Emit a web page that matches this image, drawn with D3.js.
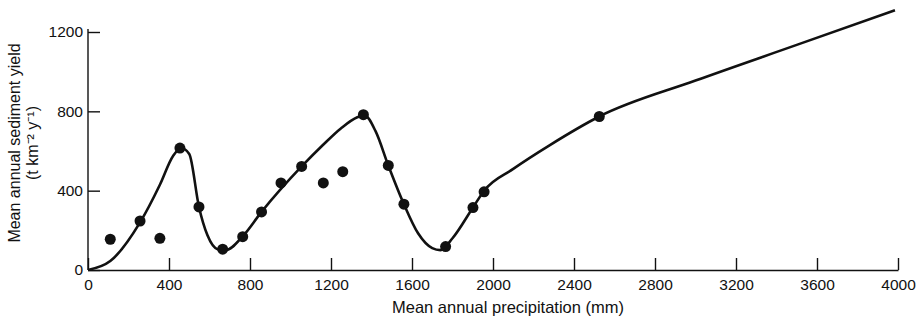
<!DOCTYPE html>
<html>
<head>
  <meta charset="utf-8">
  <title>Sediment yield vs precipitation</title>
  <style>
   html, body { margin: 0; padding: 0; background: #fff; }
   text { font-family: "Liberation Sans", Arial, sans-serif; fill: #111; }
   .axis path, .axis line { stroke: #111; stroke-width: 1.4px; }
  </style>
</head>
<body>
  <div id="chart"></div>
  <script src="https://d3js.org/d3.v7.min.js"></script>
  <script>
// observed basins: precipitation (mm) and sediment yield
var obsPrecip = [110, 257, 355, 454, 548, 665, 764, 857, 953, 1055, 1162, 1258, 1360, 1483, 1560, 1766, 1901, 1956, 2525];
var obsYield  = [155, 247, 160, 615, 318, 105, 168, 293, 439, 522, 439, 496, 783, 527, 332, 118, 315, 394, 774];

// fitted curve
var curvePrecip = [0, 110, 257, 355, 420, 460, 500, 548, 590, 640, 680, 764, 857, 1055, 1160, 1250, 1330, 1365, 1420, 1483, 1560, 1630, 1700, 1740, 1800, 1901, 1956, 2100, 2281, 2525, 3000, 3500, 3985];
var curveYield  = [0, 45, 240, 430, 575, 615, 585, 318, 175, 105, 100, 170, 293, 522, 630, 715, 770, 780, 700, 527, 332, 185, 110, 100, 160, 315, 400, 510, 630, 774, 955, 1135, 1310];

var xTicks = [0, 400, 800, 1200, 1600, 2000, 2400, 2800, 3200, 3600, 4000];
var yTicks = [0, 400, 800, 1200];

var width = 917, height = 321;

var svg = d3.select("#chart").append("svg")
  .attr("width", width)
  .attr("height", height);

var x = d3.scaleLinear().domain([0, 4000]).range([88, 898]);
var y = d3.scaleLinear().domain([0, 1200]).range([270, 32]);

// x axis, ticks pointing inward
var xAxis = svg.append("g")
  .attr("class", "axis")
  .attr("transform", "translate(0," + y(0) + ")")
  .call(d3.axisBottom(x).tickValues(xTicks).tickFormat(d3.format("d"))
    .tickSizeInner(-12).tickSizeOuter(0).tickPadding(4));
xAxis.selectAll("text").style("font-size", "15.5px").attr("y", 20).attr("dy", 0);

// y axis
var yAxis = svg.append("g")
  .attr("class", "axis")
  .attr("transform", "translate(" + x(0) + ",0)")
  .call(d3.axisLeft(y).tickValues(yTicks).tickFormat(d3.format("d"))
    .tickSizeInner(-12).tickSizeOuter(0).tickPadding(5));
yAxis.select(".domain").attr("d", "M0," + y(0) + "V" + (y(1200) - 3));
yAxis.selectAll("text").style("font-size", "15.5px");

// axis titles
svg.append("text")
  .attr("x", 508)
  .attr("y", 313)
  .attr("text-anchor", "middle")
  .style("font-size", "16.5px")
  .text("Mean annual precipitation (mm)");

var yTitle = svg.append("text")
  .attr("transform", "translate(20,143) rotate(-90)")
  .attr("text-anchor", "middle")
  .style("font-size", "16px");
yTitle.append("tspan").attr("x", 0).attr("dy", 0).text("Mean annual sediment yield");
yTitle.append("tspan").attr("x", 0).attr("dy", "1.15em").text("(t km\u207B\u00B2 y\u207B\u00B9)");

// fitted curve
var line = d3.line()
  .x(function(d) { return x(d[0]); })
  .y(function(d) { return y(d[1]); })
  .curve(d3.curveMonotoneX);

svg.append("path")
  .datum(d3.zip(curvePrecip, curveYield))
  .attr("d", line)
  .attr("fill", "none")
  .attr("stroke", "#111")
  .attr("stroke-width", 2.6);

// observations
svg.selectAll(".obs")
  .data(d3.zip(obsPrecip, obsYield))
  .enter()
  .append("circle")
  .attr("class", "obs")
  .attr("cx", function(d) { return x(d[0]); })
  .attr("cy", function(d) { return y(d[1]); })
  .attr("r", 5.5)
  .attr("fill", "#111");
  </script>
</body>
</html>
